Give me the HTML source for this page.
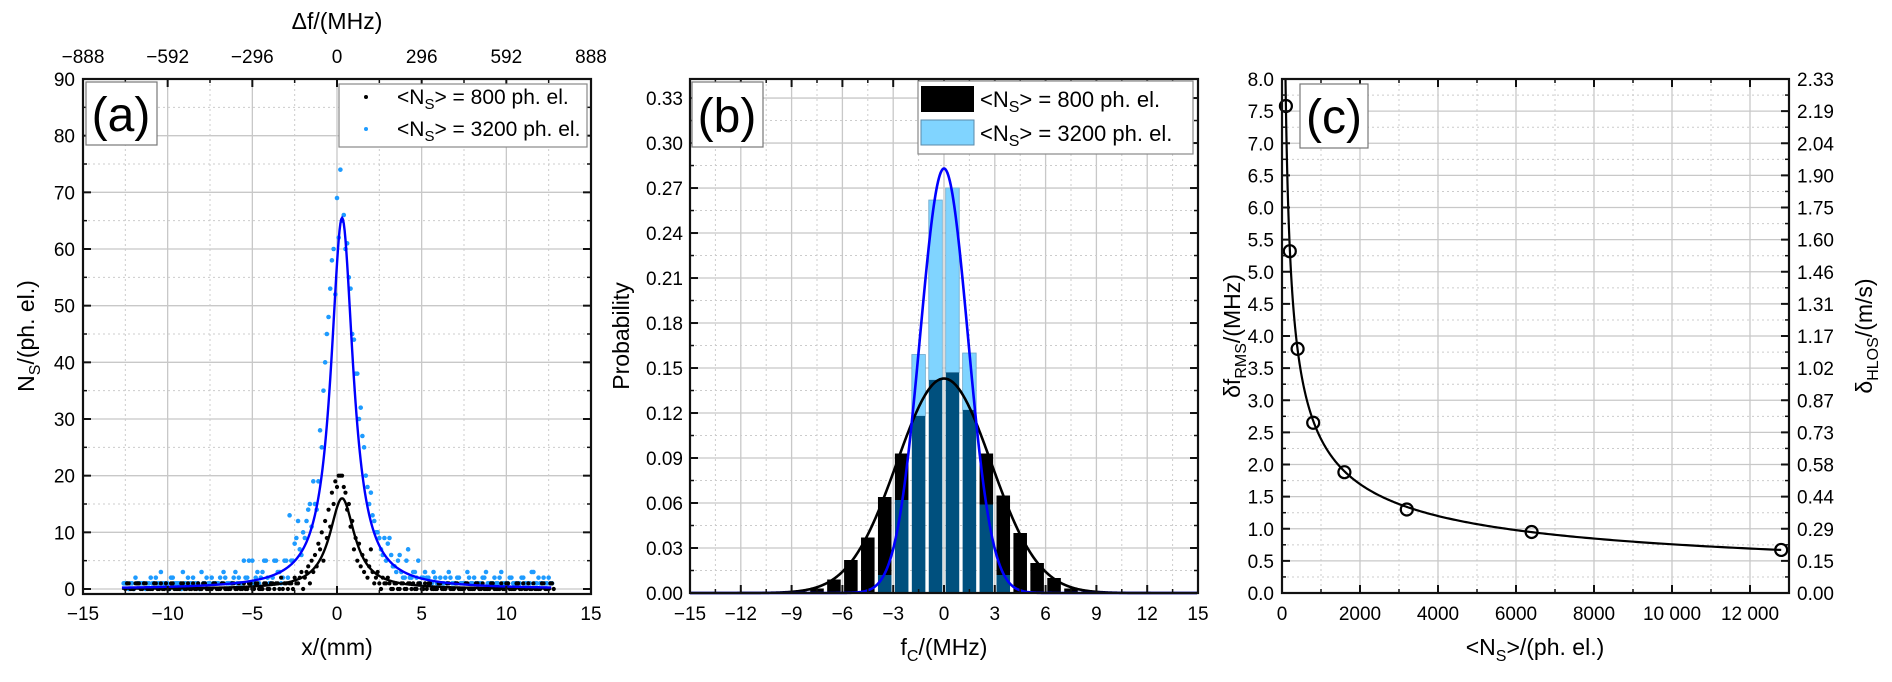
<!DOCTYPE html>
<html><head><meta charset="utf-8"><style>
html,body{margin:0;padding:0;background:#fff;}
svg{display:block;font-family:"Liberation Sans",Arial,sans-serif;}
</style></head><body>
<svg id="fig" width="1892" height="682" viewBox="0 0 1892 682" xmlns="http://www.w3.org/2000/svg">
<rect x="0" y="0" width="1892" height="682" fill="#fff"/>
<g id="layer-grid"></g>
<g id="layer-data"></g>
<g id="layer-axes"></g>

<!-- Panel a static text -->
<text x="337" y="29" font-size="23" text-anchor="middle">Δf/(MHz)</text>
<text x="337" y="655" font-size="23" text-anchor="middle">x/(mm)</text>
<text transform="translate(34,336) rotate(-90)" font-size="23" text-anchor="middle">N<tspan font-size="16" dy="6">S</tspan><tspan dy="-6">/(ph. el.)</tspan></text>
<rect x="86" y="82" width="71" height="63" fill="#fff" stroke="#777" stroke-width="1.2"/>
<text x="121" y="131" font-size="48" text-anchor="middle">(a)</text>
<rect x="339" y="84" width="248" height="63" fill="#fff" stroke="#888" stroke-width="1.2"/>
<circle cx="366" cy="97" r="2" fill="#000"/>
<text x="397" y="104" font-size="21">&lt;N<tspan font-size="15" dy="5">S</tspan><tspan dy="-5">&gt; = 800 ph. el.</tspan></text>
<circle cx="366" cy="129" r="2" fill="#1e9bff"/>
<text x="397" y="136" font-size="21">&lt;N<tspan font-size="15" dy="5">S</tspan><tspan dy="-5">&gt; = 3200 ph. el.</tspan></text>

<!-- Panel b static text -->
<text x="944" y="655" font-size="23" text-anchor="middle">f<tspan font-size="16" dy="6">C</tspan><tspan dy="-6">/(MHz)</tspan></text>
<text transform="translate(629,336) rotate(-90)" font-size="23" text-anchor="middle">Probability</text>
<rect x="692" y="82" width="71" height="65" fill="#fff" stroke="#777" stroke-width="1.2"/>
<text x="727" y="132" font-size="48" text-anchor="middle">(b)</text>
<rect x="918" y="81" width="275" height="73" fill="#fff" stroke="#888" stroke-width="1.2"/>
<rect x="921" y="86" width="53" height="26" fill="#000"/>
<text x="980" y="107" font-size="22">&lt;N<tspan font-size="16" dy="5">S</tspan><tspan dy="-5">&gt; = 800 ph. el.</tspan></text>
<rect x="921" y="120" width="53" height="25" fill="#80d4ff" stroke="#5a8aa8" stroke-width="1"/>
<text x="980" y="141" font-size="22">&lt;N<tspan font-size="16" dy="5">S</tspan><tspan dy="-5">&gt; = 3200 ph. el.</tspan></text>

<!-- Panel c static text -->
<text x="1535" y="655" font-size="23" text-anchor="middle">&lt;N<tspan font-size="16" dy="6">S</tspan><tspan dy="-6">&gt;/(ph. el.)</tspan></text>
<text transform="translate(1240,336) rotate(-90)" font-size="23" text-anchor="middle">δf<tspan font-size="16" dy="6">RMS</tspan><tspan dy="-6">/(MHz)</tspan></text>
<text transform="translate(1872,336) rotate(-90)" font-size="23" text-anchor="middle">δ<tspan font-size="16" dy="6">HLOS</tspan><tspan dy="-6">/(m/s)</tspan></text>
<rect x="1300" y="84" width="68" height="64" fill="#fff" stroke="#777" stroke-width="1.2"/>
<text x="1334" y="133" font-size="48" text-anchor="middle">(c)</text>
</svg>
<script>
// ---------- Panel a data ----------
const aXStart = -12.6;
const aXStep = 0.2;
const aBlue = [1,1,1,0,1,1,1,1,2,1,1,3,1,1,2,1,1,0,1,2,1,1,1,3,1,1,2,1,1,1,2,1,1,3,2,1,2,5,
  5,2,1,3,5,1,2,5,3,2,5,
  13,5,9,7,10,12,15,19,14,28,
  35,45,53,60,69,74,66,61,53,44,38,32,
  25,18,17,12,10,7,9,8,
  6,4,5,3,2,7,2,3,5,2,
  3,2,1,2,1,1,2,3,1,1,2,1,1,2,1,1,1,2,3,1,1,1,2,1,1,2,1,1,1,2,1,1,3,1,1,2,1,1];
const aBlue2 = [1,0,1,2,1,1,0,1,1,2,1,1,1,0,2,1,1,3,1,1,2,1,0,1,2,1,1,1,2,3,1,1,2,1,1,5,2,1,
  1,3,2,5,2,1,5,3,1,5,2,
  5,8,12,6,9,14,11,15,19,25,
  40,48,58,52,62,65,60,55,45,38,30,27,
  20,15,13,10,9,6,5,9,
  4,3,6,2,5,2,3,2,1,2,
  2,1,3,1,2,1,1,2,1,2,1,1,3,1,2,1,1,2,1,1,2,1,3,1,1,2,1,1,2,1,1,3,1,2,1,1,2,1];
const aBlack = [0,1,0,1,1,0,1,0,0,1,0,0,1,0,1,0,0,1,0,0,1,0,0,1,0,0,1,0,0,1,0,0,1,0,0,1,0,1,
  0,1,0,1,0,1,0,1,2,1,0,
  1,2,1,3,2,4,5,6,8,10,
  12,14,17,19,20,20,17,15,12,9,8,6,
  5,4,3,2,1,2,1,1,
  0,1,0,1,0,1,1,0,1,0,
  0,1,0,0,1,0,1,0,0,1,0,0,1,0,0,1,0,0,0,1,0,0,1,0,1,0,0,1,0,0,1,0,0,0,1,0,0,1];
const aBlack2 = [1,0,0,1,0,1,0,0,1,0,1,0,0,1,0,0,1,0,1,0,0,1,0,1,0,0,1,0,1,0,0,1,0,1,0,0,1,0,
  1,0,0,1,0,1,1,0,0,1,1,
  0,1,2,0,3,1,3,4,7,5,
  9,11,15,18,20,18,14,11,7,5,4,3,
  2,7,1,3,0,1,2,0,
  1,0,1,0,1,0,0,1,0,1,
  1,0,0,1,0,0,1,0,1,0,0,1,0,0,1,0,1,0,0,1,0,0,0,1,0,0,1,0,1,0,0,1,0,0,1,0,1,0];
const aFitAmp = [65.5, 16];
const aFitCenter = [0.3, 0.3];
const aFitHwhm = [0.8, 0.9];
const aXTicks = [-15,-10,-5,0,5,10,15];
const aTopLabels = ["−888","−592","−296","0","296","592","888"];
const aYTicks = [0,10,20,30,40,50,60,70,80,90];

// ---------- Panel b data ----------
const bBinCenters = [-8.5,-7.5,-6.5,-5.5,-4.5,-3.5,-2.5,-1.5,-0.5,0.5,1.5,2.5,3.5,4.5,5.5,6.5,7.5,8.5];
const bBlack = [0.001,0.003,0.009,0.022,0.037,0.064,0.093,0.118,0.142,0.147,0.122,0.093,0.065,0.040,0.020,0.010,0.003,0.001];
const bBlue  = [0,0,0,0,0,0.012,0.062,0.159,0.262,0.270,0.160,0.059,0.012,0,0,0,0,0];
const bFitAmp = [0.143, 0.283];
const bFitSigma = [2.79, 1.41];
const bFitCenter = [0.0, 0.0];
const bXTicks = [-15,-12,-9,-6,-3,0,3,6,9,12,15];
const bYTicks = [0,0.03,0.06,0.09,0.12,0.15,0.18,0.21,0.24,0.27,0.30,0.33];

// ---------- Panel c data ----------
const cN = [100,200,400,800,1600,3200,6400,12800];
const cDf = [7.58,5.32,3.80,2.65,1.88,1.30,0.95,0.67];
const cFitA = [75.8];
const cXTicks = [0,2000,4000,6000,8000,10000,12000];
const cXLabels = ["0","2000","4000","6000","8000","10 000","12 000"];
const cYTicks = [0,0.5,1,1.5,2,2.5,3,3.5,4,4.5,5,5.5,6,6.5,7,7.5,8];
const cRightLabels = ["0.00","0.15","0.29","0.44","0.58","0.73","0.87","1.02","1.17","1.31","1.46","1.60","1.75","1.90","2.04","2.19","2.33"];

const NS = "http://www.w3.org/2000/svg";
const gGrid = document.getElementById('layer-grid');
const gData = document.getElementById('layer-data');
const gAxes = document.getElementById('layer-axes');
const TICK_FS = 19;
function lin(d0,d1,r0,r1){ return v => r0 + (v-d0)*(r1-r0)/(d1-d0); }
function mk(tag, attrs, parent){
  const el = document.createElementNS(NS, tag);
  for (const k in attrs) el.setAttribute(k, attrs[k]);
  parent.appendChild(el);
  return el;
}
function line(x1,y1,x2,y2,stroke,w,dash,parent,name){
  const el = mk('line',{x1:x1,y1:y1,x2:x2,y2:y2,stroke:stroke,'stroke-width':w},parent);
  if (dash) el.setAttribute('stroke-dasharray', dash);
  
  
  return el;
}
function label(x,y,txt,anchor,size,name){
  const el = mk('text',{x:x,y:y,'text-anchor':anchor,'font-size':size},gAxes);
  el.textContent = txt;
  
  
  return el;
}
function frame(L,R,T,B,name){
  const el = mk('rect',{x:L,y:T,width:R-L,height:B-T,fill:'none',stroke:'#111','stroke-width':2.2},gAxes);
  
  
}
function gridAndTicks(L,R,T,B,xs,ys,xMaj,xMin,yMaj,yMin,p){
  xMin.forEach(v=>{ const X=xs(v); if(X>L+1&&X<R-1){ line(X,T,X,B,'#ccc',1,'2,3',gGrid,p+'-x-minor-grid'); }
    line(X,B,X,B-4,'#111',1.5,null,gAxes,p+'-x-minor-tick'); line(X,T,X,T+4,'#111',1.5,null,gAxes,p+'-top-minor-tick'); });
  xMaj.forEach(v=>{ const X=xs(v); if(X>L+1&&X<R-1){ line(X,T,X,B,'#c8c8c8',1.3,null,gGrid,p+'-x-major-grid'); }
    line(X,B,X,B-8,'#111',2,null,gAxes,p+'-x-major-tick'); line(X,T,X,T+8,'#111',2,null,gAxes,p+'-top-major-tick'); });
  yMin.forEach(v=>{ const Y=ys(v); if(Y>T+1&&Y<B-1){ line(L,Y,R,Y,'#ccc',1,'2,3',gGrid,p+'-y-minor-grid'); }
    line(L,Y,L+4,Y,'#111',1.5,null,gAxes,p+'-y-minor-tick'); line(R,Y,R-4,Y,'#111',1.5,null,gAxes,p+'-right-minor-tick'); });
  yMaj.forEach(v=>{ const Y=ys(v); if(Y>T+1&&Y<B-1){ line(L,Y,R,Y,'#c8c8c8',1.3,null,gGrid,p+'-y-major-grid'); }
    line(L,Y,L+8,Y,'#111',2,null,gAxes,p+'-y-major-tick'); line(R,Y,R-8,Y,'#111',2,null,gAxes,p+'-right-major-tick'); });
}
function range(a,b,s){ const r=[]; for(let v=a; v<=b+1e-9; v+=s) r.push(+v.toFixed(6)); return r; }
function pathFrom(pts){ return pts.map((p,i)=>(i?'L':'M')+p[0].toFixed(2)+','+p[1].toFixed(2)).join(''); }

// ================= Panel a =================
(function(){
  const L=83,R=591,T=79,B=594;
  const xa = lin(-15,15,L,R), ya = lin(0,90,589,T);
  gridAndTicks(L,R,T,B,xa,ya,aXTicks,range(-12.5,12.5,5),aYTicks,range(5,85,10),'a');
  frame(L,R,T,B,'a-plot-frame');
  aXTicks.forEach((v,i)=>{
    label(xa(v),620,String(v).replace('-','−'),'middle',TICK_FS,'a-x-tick-label');
    label(xa(v),63,aTopLabels[i],'middle',TICK_FS,'a-top-tick-label');
  });
  aYTicks.forEach(v=>label(L-8,ya(v)+7,String(v),'end',TICK_FS,'a-y-tick-label'));
  // scatter
  aBlue.forEach((v,i)=>{
    const x = aXStart + i*aXStep;
    const c = mk('circle',{cx:xa(x),cy:ya(v),r:2.3,fill:'#1e9bff'},gData);
    
    
  });
  aBlue2.forEach((v,i)=>{
    const x = aXStart + 0.1 + i*aXStep;
    const c = mk('circle',{cx:xa(x),cy:ya(v),r:2.3,fill:'#1e9bff'},gData);
    
    
  });
  aBlack.forEach((v,i)=>{
    const x = aXStart + i*aXStep + 0.1;
    const c = mk('circle',{cx:xa(x),cy:ya(v),r:2.1,fill:'#000'},gData);
    
    
  });
  aBlack2.forEach((v,i)=>{
    const x = aXStart + i*aXStep + 0.2;
    const c = mk('circle',{cx:xa(x),cy:ya(v),r:2.1,fill:'#000'},gData);
    
    
  });
  // fits
  const colors = ['#0000ff','#000'];
  const names = ['a-fit-curve-3200','a-fit-curve-800'];
  [1,0].forEach(k=>{
    const pts=[];
    for(let x=-12.7; x<=12.7; x+=0.05){ const u=(x-aFitCenter[k])/aFitHwhm[k]; pts.push([xa(x), ya(aFitAmp[k]/(1+u*u))]); }
    const p = mk('path',{d:pathFrom(pts),fill:'none',stroke:colors[k],'stroke-width':2.4},gData);
    
    
  });
})();

// ================= Panel b =================
(function(){
  const L=690,R=1198,T=79,B=593;
  const xb = lin(-15,15,L,R), yb = lin(0,0.3427,B,T);
  gridAndTicks(L,R,T,B,xb,yb,bXTicks,range(-13.5,13.5,3),bYTicks,range(0.015,0.33,0.03),'b');
  const bw = 0.8;
  bBinCenters.forEach((c,i)=>{
    const x0 = xb(c-bw/2), w = xb(c+bw/2)-xb(c-bw/2);
    const k = bBlack[i], b = bBlue[i], m = Math.min(k,b);
    if (b > k){
      const r = mk('rect',{x:x0,y:yb(b),width:w,height:yb(m)-yb(b),fill:'#80d4ff',stroke:'#6aa8cc','stroke-width':0.8},gData);
      
      
    }
    if (k > b){
      const r = mk('rect',{x:x0,y:yb(k),width:w,height:yb(m)-yb(k),fill:'#000'},gData);
      
      
    }
    if (m > 0){
      const r = mk('rect',{x:x0,y:yb(m),width:w,height:yb(0)-yb(m),fill:'#00507e'},gData);
      
      
    }
  });
  const colors = ['#000','#0000ff'];
  const names = ['b-fit-curve-800','b-fit-curve-3200'];
  [0,1].forEach(k=>{
    const pts=[];
    for(let x=-15; x<=15; x+=0.05){ const u=(x-bFitCenter[k])/bFitSigma[k]; pts.push([xb(x), yb(bFitAmp[k]*Math.exp(-0.5*u*u))]); }
    const p = mk('path',{d:pathFrom(pts),fill:'none',stroke:colors[k],'stroke-width':2.6},gData);
    
    
  });
  frame(L,R,T,B,'b-plot-frame');
  bXTicks.forEach(v=>label(xb(v),620,String(v).replace('-','−'),'middle',TICK_FS,'b-x-tick-label'));
  bYTicks.forEach(v=>label(L-7,yb(v)+7,v.toFixed(2),'end',TICK_FS,'b-y-tick-label'));
})();

// ================= Panel c =================
(function(){
  const L=1282,R=1789,T=79,B=593;
  const xc = lin(0,13000,L,R), yc = lin(0,8,B,T);
  gridAndTicks(L,R,T,B,xc,yc,cXTicks,range(1000,13000,2000),cYTicks,range(0.25,7.75,0.5),'c');
  frame(L,R,T,B,'c-plot-frame');
  cXTicks.forEach((v,i)=>label(xc(v),620,cXLabels[i],'middle',TICK_FS,'c-x-tick-label'));
  cYTicks.forEach((v,i)=>{
    label(L-8,yc(v)+7,v.toFixed(1),'end',TICK_FS,'c-y-tick-label');
    label(R+8,yc(v)+7,cRightLabels[i],'start',TICK_FS,'c-right-tick-label');
  });
  const pts=[];
  for(let n=90; n<=12800; n*= 1.01){ pts.push([xc(n), yc(cFitA[0]/Math.sqrt(n))]); }
  pts.push([xc(12800), yc(cFitA[0]/Math.sqrt(12800))]);
  const p = mk('path',{d:pathFrom(pts),fill:'none',stroke:'#000','stroke-width':2.2},gData);
  
  
  cN.forEach((n,i)=>{
    const c = mk('circle',{cx:xc(n),cy:yc(cDf[i]),r:6,fill:'none',stroke:'#000','stroke-width':2.2},gData);
    
    
  });
})();
</script>
</body></html>
